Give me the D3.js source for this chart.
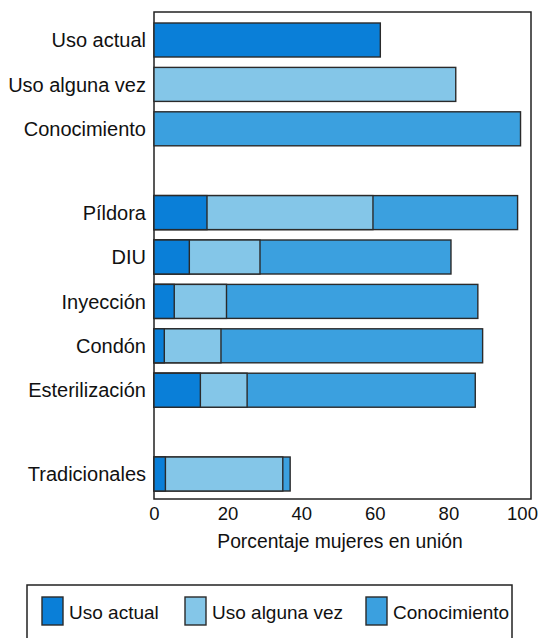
<!DOCTYPE html>
<html>
<head>
<meta charset="utf-8">
<script src="https://cdn.jsdelivr.net/npm/d3@7"></script>
<style>
  body { margin: 0; background: #fff; }
  text { font-family: "Liberation Sans", Arial, Helvetica, sans-serif; fill: #111; }
</style>
</head>
<body>
<div id="chart"></div>
<script>
var categories = ["Uso actual", "Uso alguna vez", "Conocimiento", "Píldora", "DIU",
  "Inyección", "Condón", "Esterilización", "Tradicionales"];
var groups = [0, 0, 0, 1, 1, 1, 1, 1, 2];

// percentage of women in union, each bar starts at 0 (overlaid)
var usoActual    = [61.5, null, null, 14.4, 9.6, 5.5, 2.8, 12.6, 3.1];
var usoAlgunaVez = [null, 82.0, null, 59.5, 28.8, 19.7, 18.2, 25.3, 35.0];
var conocimiento = [null, null, 99.6, 98.8, 80.7, 88.0, 89.3, 87.3, 37.0];

var xTicks = [0, 20, 40, 60, 80, 100];

var series = [
  { name: "Conocimiento", values: conocimiento, color: "#3ba0df" },
  { name: "Uso alguna vez", values: usoAlgunaVez, color: "#84c6e8" },
  { name: "Uso actual", values: usoActual, color: "#0a7fd8" }
];
var legendItems = ["Uso actual", "Uso alguna vez", "Conocimiento"];
var legendColors = { "Uso actual": "#0a7fd8", "Uso alguna vez": "#84c6e8", "Conocimiento": "#3ba0df" };

var width = 540, height = 638;
var frame = { left: 154, right: 531, top: 12, bottom: 499 };

var svg = d3.select("#chart").append("svg")
  .attr("width", width)
  .attr("height", height);

var x = d3.scaleLinear().domain([0, 100]).range([154, 522]);

// vertical slots: one per row, plus a shorter gap between groups
var gapSlots = 0.887;
function slot(i) { return i + groups[i] * gapSlots; }
var y = d3.scaleLinear()
  .domain([0, slot(categories.length - 1)])
  .range([40, 474]);
var barH = 34;

// frame
svg.append("rect")
  .attr("x", frame.left)
  .attr("y", frame.top)
  .attr("width", frame.right - frame.left)
  .attr("height", frame.bottom - frame.top)
  .attr("fill", "none")
  .attr("stroke", "#222")
  .attr("stroke-width", 1.5);

// bars
series.forEach(function(s){
  var rows = s.values.map(function(v, i){ return { v: v, i: i }; })
    .filter(function(d){ return d.v !== null; });

  svg.selectAll(".bar-" + s.name.replace(/\s/g, ""))
    .data(rows)
    .enter().append("rect")
    .attr("x", x(0))
    .attr("y", function(d){ return y(slot(d.i)) - barH / 2; })
    .attr("width", function(d){ return x(d.v) - x(0); })
    .attr("height", barH)
    .attr("fill", s.color)
    .attr("stroke", "#2a2a2a")
    .attr("stroke-width", 1.4);
});

// category labels
svg.selectAll(".cat")
  .data(categories)
  .enter().append("text")
  .attr("class", "cat")
  .attr("x", 146)
  .attr("y", function(d, i){ return y(slot(i)); })
  .attr("dy", "0.36em")
  .attr("text-anchor", "end")
  .style("font-size", "20px")
  .text(function(d){ return d; });

// x axis
var xAxis = d3.axisBottom(x).tickValues(xTicks).tickSize(0).tickPadding(8);
var gx = svg.append("g")
  .attr("transform", "translate(0," + frame.bottom + ")")
  .call(xAxis);
gx.select(".domain").remove();
gx.selectAll("text")
  .style("font-size", "18.5px")
  .attr("fill", "#111");

svg.append("text")
  .attr("x", (x(0) + x(100)) / 2 + 2)
  .attr("y", 548)
  .attr("text-anchor", "middle")
  .style("font-size", "19.3px")
  .text("Porcentaje mujeres en unión");

// legend
svg.append("rect")
  .attr("x", 27)
  .attr("y", 585)
  .attr("width", 485)
  .attr("height", 70)
  .attr("fill", "none")
  .attr("stroke", "#222")
  .attr("stroke-width", 1.5);

var legendX = [42, 185, 366];
var lg = svg.selectAll(".legend")
  .data(legendItems)
  .enter().append("g")
  .attr("transform", function(d, i){ return "translate(" + legendX[i] + ",597)"; });

lg.append("rect")
  .attr("width", 21)
  .attr("height", 28)
  .attr("fill", function(d){ return legendColors[d]; })
  .attr("stroke", "#2a2a2a")
  .attr("stroke-width", 1.4);

lg.append("text")
  .attr("x", 27)
  .attr("y", 22)
  .style("font-size", "19px")
  .text(function(d){ return d; });
</script>
</body>
</html>
